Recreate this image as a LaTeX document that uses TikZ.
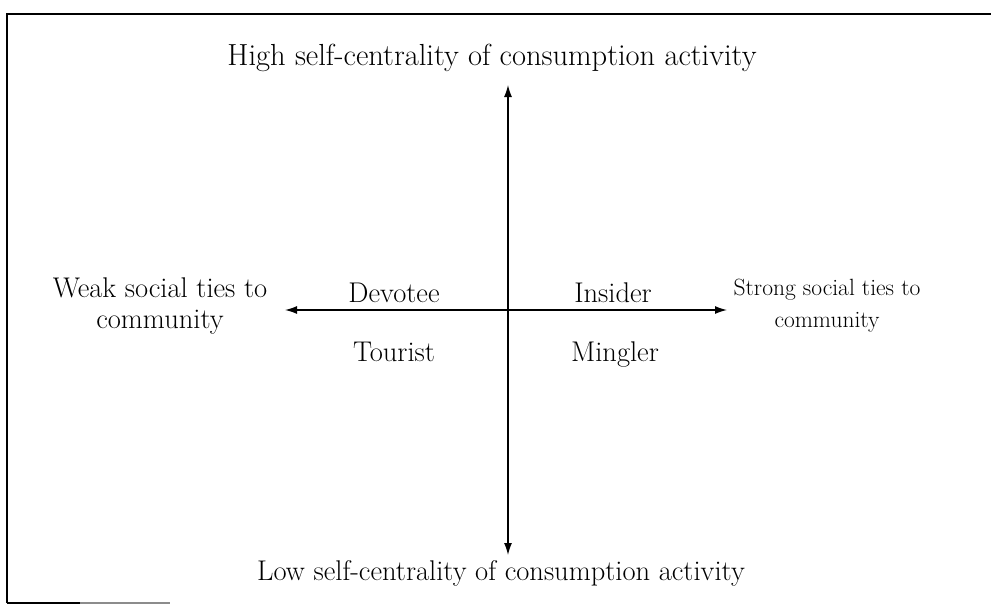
\documentclass[tikz,border=0pt]{standalone}
\usetikzlibrary{arrows.meta}
\begin{document}
\begin{tikzpicture}[x=1pt,y=-1pt,
  axis/.style={line width=1.3pt,{Latex[length=12pt,width=8pt]}-{Latex[length=12pt,width=8pt]}},
  lbl/.style={font=\fontsize{28.5}{31}\selectfont,align=center,inner sep=0pt,anchor=base},
  frameline/.style={line width=1.5pt}]
  \useasboundingbox (0,0) rectangle (991,605);
  % frame
  \draw[frameline] (7,603) -- (7,14) -- (991,14);
  \draw[line width=1.3pt] (7,603) -- (80,603);
  \draw[line width=1.1pt,black!45] (80,603) -- (170,603);
  % axis end points
  \coordinate (vtop) at (508,85);
  \coordinate (vbot) at (508,555);
  \coordinate (hleft) at (285,310);
  \coordinate (hright) at (727,310);
  \draw[axis] (vbot) -- (vtop);
  \draw[axis] (hleft) -- (hright);
  % axis labels (base anchor = baseline of the last line)
  \node[lbl,font=\fontsize{30.5}{31}\selectfont] (high) at (492,65) {High self-centrality of consumption activity};
  \node[lbl] (low) at (501,580) {Low self-centrality of consumption activity};
  \node[lbl] (weak) at (160,328) {Weak social ties to\\community};
  \node[lbl,font=\fontsize{23.5}{32}\selectfont] (strong) at (827,327) {Strong social ties to\\community};
  % quadrant labels
  \node[lbl] (devotee) at (394,302) {Devotee};
  \node[lbl] (insider) at (613,302) {Insider};
  \node[lbl] (tourist) at (394,361) {Tourist};
  \node[lbl] (mingler) at (615,361) {Mingler};
\end{tikzpicture}
\end{document}
